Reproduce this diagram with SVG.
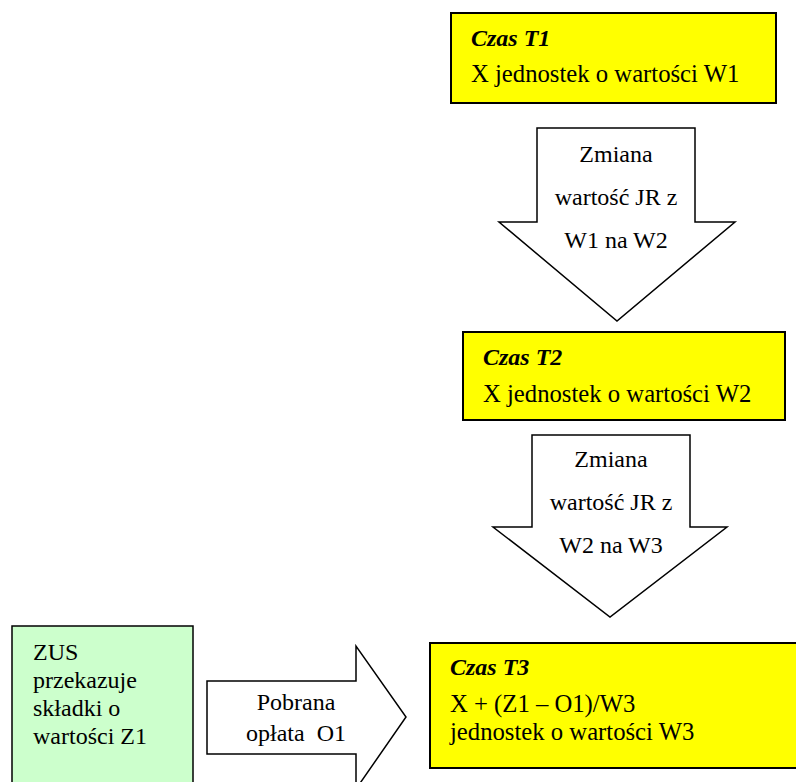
<svg xmlns="http://www.w3.org/2000/svg" width="796" height="782" viewBox="0 0 796 782">
<style>
text{font-family:'Liberation Serif','DejaVu Serif',serif;font-size:24px;fill:#000}
.t{font-weight:bold;font-style:italic}
.b{font-size:24.7px}
.box{fill:#ffff00;stroke:#000;stroke-width:2}
.green{fill:#ccffcc;stroke:#000;stroke-width:1.5}
.arr{fill:#fff;stroke:#000;stroke-width:1.5;stroke-linejoin:miter}
.c{text-anchor:middle}
</style>
<rect width="796" height="782" fill="#fff"/>
<g id="t1">
<rect class="box" x="451" y="13" width="325" height="90"/>
<text class="t" x="471" y="46">Czas T1</text>
<text class="b" x="471" y="82">X jednostek o wartości W1</text>
</g>
<g id="t2">
<rect class="box" x="463" y="332" width="322" height="88"/>
<text class="t" x="483" y="365">Czas T2</text>
<text class="b" x="483" y="402">X jednostek o wartości W2</text>
</g>
<g id="t3">
<rect class="box" x="430" y="643" width="372" height="125"/>
<text class="t" x="450" y="675">Czas T3</text>
<text class="b" x="450" y="712">X + (Z1 – O1)/W3</text>
<text class="b" x="450" y="740">jednostek o wartości W3</text>
</g>
<g id="zus">
<rect class="green" x="12" y="626" width="181" height="170"/>
<text x="33" y="660">ZUS</text>
<text x="33" y="688">przekazuje</text>
<text x="33" y="716">składki o</text>
<text x="33" y="744">wartości Z1</text>
</g>
<g id="connectors">
<g id="arrow1">
<polygon class="arr" points="537,128 695,128 695,222 735,222 617,321 499,222 537,222"/>
<text class="c" x="616" y="162">Zmiana</text>
<text class="c" x="616" y="205">wartość JR z</text>
<text class="c" x="616" y="248">W1 na W2</text>
</g>
<g id="arrow2">
<polygon class="arr" points="532,435 690,435 690,527 727,527 610,617 493,527 532,527"/>
<text class="c" x="611" y="467">Zmiana</text>
<text class="c" x="611" y="510">wartość JR z</text>
<text class="c" x="611" y="553">W2 na W3</text>
</g>
<g id="arrow3">
<polygon class="arr" points="207,681 356,681 356,646 406,717 356,789 356,754 207,754"/>
<text class="c" x="296" y="710">Pobrana</text>
<text class="c" x="296" y="741" xml:space="preserve">opłata  O1</text>
</g>
</g>
</svg>
